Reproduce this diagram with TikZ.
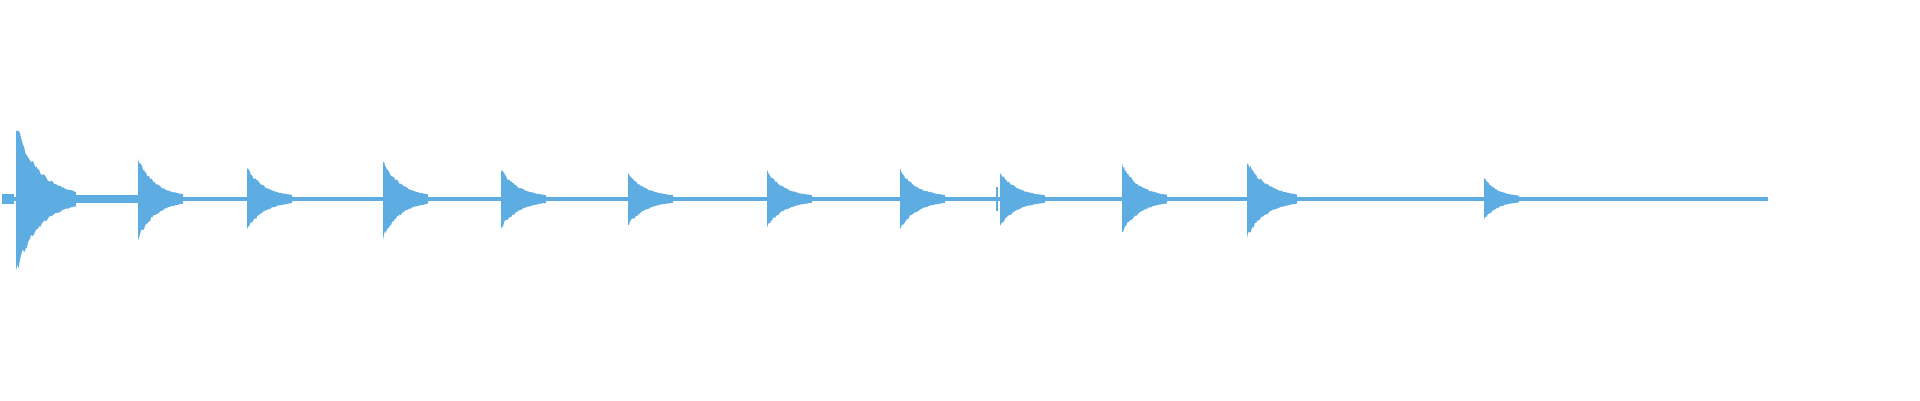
\documentclass[tikz,border=0pt]{standalone}
\usepackage{tikz}
\definecolor{WaveBlue}{HTML}{5DADE2}

% one decaying hit: onset, half height, decay length
\newcommand{\hit}[3]{%
  \fill[wave] (#1,199) -- plot[domain=0:#3,samples=45]
      ({#1+\x},{199-2-(#2-2)*exp(-2.6*\x/#3)*(0.85+0.15*rnd)})
    -- plot[domain=#3:0,samples=45]
      ({#1+\x},{199+2+(#2-2)*exp(-2.6*\x/#3)*(0.85+0.15*rnd)}) -- cycle;}

\begin{document}
\begin{tikzpicture}[
    x=1pt, y=-1pt,
    wave/.style={fill=WaveBlue}
]
    \pgfmathsetseed{7}
    \useasboundingbox (0,0) rectangle (1920,400);

    % baseline
    \fill[wave] (2,197) rectangle (1768,201);
    \fill[wave] (16,195) rectangle (138,203);
    \fill[wave] (2,194) rectangle (14,204);

    % hits
    \foreach \xo/\amp/\len in {16/78/60, 138/42/45, 247/33/45, 383/41/45,
        501/31/45, 628/28/45, 767/29/45, 900/31/45, 1000/28/45,
        1122/36/45, 1247/40/50, 1484/22/35}
      {\hit{\xo}{\amp}{\len}}
    \fill[wave] (996,187) rectangle (998,211);
\end{tikzpicture}
\end{document}
